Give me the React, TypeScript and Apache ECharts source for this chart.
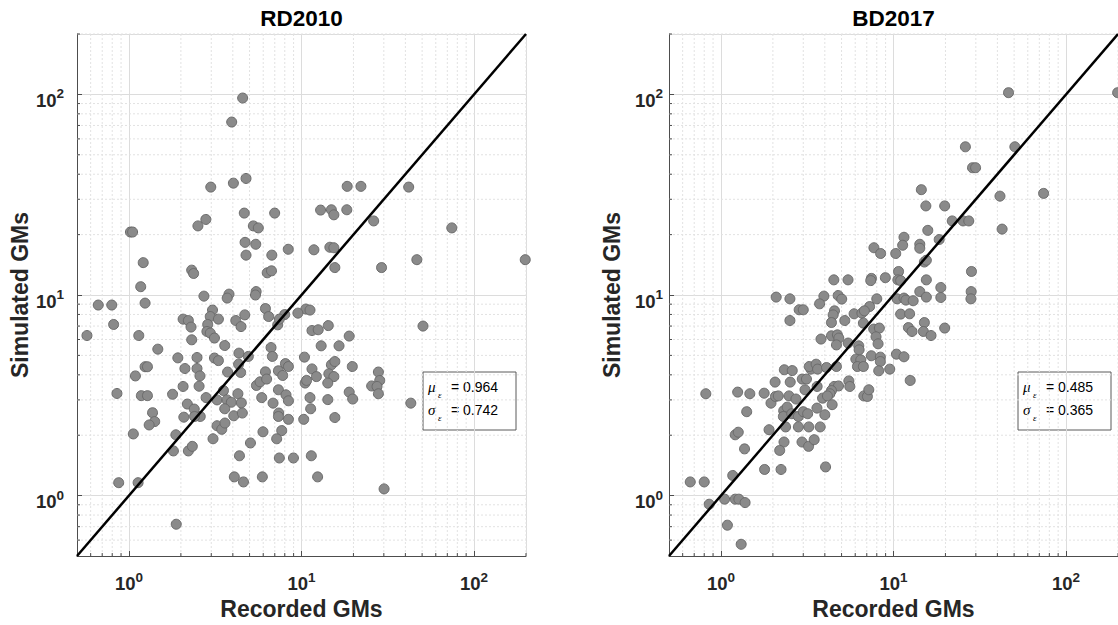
import React, { useEffect, useRef } from 'react';
import * as echarts from 'echarts';

// ---------- data ----------
const PANEL_TITLES = ['RD2010', 'BD2017'];
const X_AXIS_NAME = 'Recorded GMs';
const Y_AXIS_NAME = 'Simulated GMs';
const AXIS_RANGE = [0.5, 200];
const ONE_TO_ONE = [0.5, 200];
const MINOR_GRID = [0.6, 0.7, 0.8, 0.9, 2, 3, 4, 5, 6, 7, 8, 9, 20, 30, 40, 50, 60, 70, 80, 90, 200];
const RD2010_STATS = ['0.964', '0.742'];
const BD2017_STATS = ['0.485', '0.365'];

// [recorded, simulated]
const RD2010_POINTS = [
  [4.56, 95.9], [3.94, 72.8], [4.77, 38.1], [4.03, 36.1], [2.98, 34.5], [18.4, 34.8], [22.1, 34.8], [41.8, 34.5],
  [12.9, 26.5], [14.9, 26.6], [15.4, 25.1], [18.3, 26.6], [26.2, 23.4], [4.66, 25.6], [6.99, 25.6], [2.79, 23.8],
  [2.51, 22.1], [5.26, 22.1], [5.62, 21.6], [1.02, 20.6], [1.05, 20.6], [74.3, 21.6], [4.71, 18.3], [5.43, 17.9],
  [4.77, 15.8], [6.73, 15.8], [8.38, 16.9], [11.8, 16.8], [14.6, 17.3], [15.4, 17.2], [15.6, 13.7], [29.1, 13.7],
  [46.6, 15.0], [198, 15.0], [1.21, 14.5], [2.31, 13.3], [2.37, 12.8], [6.33, 12.9], [6.70, 13.2], [1.17, 11.0],
  [2.72, 9.87], [3.80, 10.1], [3.71, 9.65], [5.46, 10.4], [5.41, 10.0], [0.664, 8.91], [0.795, 8.91], [1.24, 9.11],
  [3.05, 8.41], [4.69, 7.96], [6.18, 8.56], [10.6, 8.51], [11.2, 8.41], [9.53, 8.12], [7.99, 7.99], [6.45, 7.81],
  [0.815, 7.13], [0.571, 6.28], [1.14, 6.28], [2.96, 7.81], [3.30, 7.58], [2.06, 7.58], [2.21, 7.46], [2.29, 6.92],
  [2.86, 7.13], [2.83, 6.58], [2.96, 6.46], [3.13, 6.10], [2.31, 5.98], [4.16, 7.46], [4.46, 6.96], [7.28, 7.10],
  [7.44, 7.58], [1.47, 5.37], [3.59, 5.60], [1.92, 4.86], [2.48, 4.88], [3.13, 4.85], [3.30, 4.71], [4.34, 5.13],
  [4.92, 4.94], [6.66, 5.47], [6.78, 4.94], [10.4, 4.90], [1.24, 4.39], [1.28, 4.39], [2.11, 4.30], [2.48, 4.30],
  [2.58, 3.95], [3.73, 4.13], [4.44, 4.11], [4.32, 4.52], [1.09, 3.95], [2.06, 3.50], [2.55, 3.51], [3.53, 3.34],
  [5.48, 3.54], [5.75, 3.69], [6.18, 4.14], [6.28, 3.81], [7.35, 4.19], [7.78, 3.97], [8.07, 4.55], [8.40, 4.40],
  [10.5, 3.64], [0.852, 3.23], [1.18, 3.15], [1.28, 3.15], [1.79, 3.20], [2.80, 3.08], [3.24, 3.00], [3.70, 3.00],
  [3.92, 2.92], [4.28, 3.22], [4.48, 2.90], [2.18, 2.86], [2.39, 2.70], [3.59, 2.71], [5.88, 3.08], [6.84, 2.89],
  [7.35, 3.37], [8.13, 3.18], [8.40, 2.97], [1.37, 2.59], [1.41, 2.34], [1.31, 2.25], [2.08, 2.46], [2.59, 2.48],
  [2.40, 2.48], [4.05, 2.50], [4.54, 2.58], [3.24, 2.23], [3.45, 2.14], [3.60, 2.30], [7.38, 2.58], [7.35, 2.48],
  [8.40, 2.40], [10.3, 2.40], [1.06, 2.03], [1.87, 2.01], [3.07, 1.92], [5.98, 2.08], [7.68, 2.11], [7.18, 1.92],
  [5.06, 1.83], [1.81, 1.67], [2.21, 1.67], [2.33, 1.76], [4.37, 1.58], [7.44, 1.54], [8.98, 1.54], [0.872, 1.16],
  [1.13, 1.16], [4.08, 1.24], [4.61, 1.17], [5.93, 1.24], [1.88, 0.72], [11.5, 6.65], [12.5, 6.71], [14.3, 7.04],
  [18.9, 6.24], [13.0, 5.58], [16.5, 5.58], [50.6, 7.00], [11.5, 4.28], [12.2, 3.92], [10.7, 3.75], [14.9, 4.49],
  [15.6, 4.66], [14.4, 4.05], [15.4, 3.92], [14.2, 3.64], [19.7, 4.40], [27.9, 4.13], [28.4, 3.75], [25.5, 3.52],
  [27.4, 3.50], [27.9, 3.22], [11.2, 3.08], [14.2, 3.01], [18.9, 3.28], [19.8, 3.03], [11.3, 2.71], [43.0, 2.89],
  [15.6, 2.45], [11.4, 1.58], [12.4, 1.24], [30.1, 1.08],
];

const BD2017_POINTS = [
  [46.4, 102], [199, 102], [26.1, 54.8], [50.5, 54.8], [28.7, 43.1], [29.9, 43.1], [14.5, 33.5], [41.4, 31.1],
  [74.1, 32.1], [15.4, 27.8], [19.8, 27.8], [21.9, 23.4], [25.3, 23.4], [27.3, 23.4], [42.6, 21.3], [15.8, 21.0],
  [18.4, 18.9], [11.5, 19.4], [11.3, 17.7], [14.2, 17.9], [14.2, 17.1], [7.70, 17.2], [8.42, 16.1], [10.3, 16.1],
  [15.1, 14.6], [15.5, 14.9], [10.7, 13.1], [28.3, 13.1], [4.51, 11.9], [5.45, 11.9], [7.45, 12.1], [7.38, 11.8],
  [8.97, 12.2], [10.6, 11.9], [11.0, 11.8], [15.5, 11.9], [18.8, 10.9], [28.2, 10.4], [14.2, 10.4], [2.09, 9.76],
  [2.51, 9.57], [3.95, 9.87], [4.78, 9.94], [5.01, 9.54], [8.00, 9.57], [10.5, 9.57], [11.5, 9.65], [11.8, 9.43],
  [13.0, 9.36], [15.5, 9.76], [18.8, 9.72], [28.1, 9.57], [3.73, 9.04], [2.84, 8.44], [3.00, 8.44], [4.55, 8.34],
  [7.27, 8.76], [5.91, 8.06], [6.56, 8.12], [6.78, 8.34], [4.47, 7.96], [11.0, 8.03], [12.4, 8.06],
  [2.51, 7.46], [4.37, 7.29], [5.22, 7.46], [6.69, 7.24], [7.68, 6.76], [8.28, 6.84], [3.80, 6.03], [4.37, 6.26],
  [4.73, 6.33], [4.82, 6.10], [4.67, 5.64], [5.46, 5.76], [6.29, 5.58], [6.32, 5.33], [6.05, 4.79], [6.46, 4.75],
  [6.18, 4.40], [6.69, 4.40], [7.44, 4.98], [7.92, 6.19], [8.14, 5.71], [8.39, 4.90], [8.39, 4.66], [9.51, 4.27],
  [8.21, 4.19], [10.4, 5.07], [11.5, 4.92], [12.5, 3.75], [15.1, 7.29], [12.2, 6.88], [12.8, 6.58], [14.9, 6.58],
  [16.5, 6.28], [19.8, 6.84], [2.33, 4.24], [2.59, 4.20], [2.52, 3.68], [2.06, 3.68], [2.96, 3.81], [3.13, 3.81],
  [3.32, 4.27], [3.25, 4.40], [3.56, 4.52], [3.63, 4.27], [4.09, 4.35], [4.67, 4.40], [5.51, 3.73], [5.58, 3.50],
  [4.53, 3.50], [4.80, 3.52], [4.37, 3.34], [4.28, 3.22], [3.88, 3.06], [4.14, 3.14], [4.41, 2.84], [6.73, 3.14],
  [7.06, 3.12], [7.19, 3.37], [0.817, 3.22], [1.25, 3.28], [1.47, 3.22], [1.78, 3.24], [1.95, 2.89], [2.07, 3.12],
  [2.15, 3.14], [2.48, 3.14], [2.72, 3.03], [3.07, 3.37], [3.61, 3.50], [1.41, 2.62], [2.31, 2.65], [2.42, 2.76],
  [2.30, 2.48], [2.57, 2.56], [2.81, 2.48], [3.00, 2.62], [3.18, 2.56], [3.60, 2.73], [4.00, 2.53], [1.21, 2.01],
  [1.26, 2.07], [1.37, 1.71], [1.90, 2.13], [2.32, 1.85], [2.19, 1.68], [2.37, 2.20], [2.81, 2.20], [3.23, 2.20],
  [3.76, 2.20], [2.95, 1.85], [3.22, 1.76], [3.47, 1.90], [1.79, 1.35], [2.23, 1.35], [4.04, 1.39], [0.664, 1.17],
  [0.800, 1.17], [1.17, 1.26], [0.855, 0.906], [1.05, 0.96], [1.21, 0.96], [1.27, 0.96], [1.38, 0.923],
  [1.09, 0.712], [1.31, 0.572],
];

// ---------- style / layout ----------
const FONT = '"Liberation Sans", Arial, Helvetica, sans-serif';
const SERIF = '"Liberation Serif", "Times New Roman", serif';
const TEXT_COLOR = '#262626';
const AXIS_COLOR = '#4d4d4d';
const GRID_TOP = 34;
const GRID_H = 522;
const GRID_W = 449;

const PANELS = [
  { title: PANEL_TITLES[0], points: RD2010_POINTS, stats: RD2010_STATS, left: 77, yLabelMargin: 13, boxX: 423 },
  { title: PANEL_TITLES[1], points: BD2017_POINTS, stats: BD2017_STATS, left: 669, yLabelMargin: 6, boxX: 1018 },
];

const powerLabel = (v: number) => {
  const l = Math.log10(v);
  const e = Math.round(l);
  return Math.abs(l - e) < 1e-6 ? `{b|10}{s|${e}}` : '';
};

const labelRich = {
  b: { fontFamily: FONT, fontSize: 18.5, fontWeight: 'bold', color: TEXT_COLOR, padding: [4, 0, 0, 0], verticalAlign: 'bottom' },
  s: { fontFamily: FONT, fontSize: 13.5, fontWeight: 'bold', color: TEXT_COLOR, verticalAlign: 'top' },
};

function buildOption() {
  const grid: any[] = [];
  const xAxis: any[] = [];
  const yAxis: any[] = [];
  const series: any[] = [];
  const graphic: any[] = [];

  PANELS.forEach((p, i) => {
    grid.push({ left: p.left, top: GRID_TOP, width: GRID_W, height: GRID_H, containLabel: false, outerBoundsMode: 'none' });
    const common = {
      type: 'log',
      logBase: 10,
      gridIndex: i,
      min: AXIS_RANGE[0],
      max: AXIS_RANGE[1],
      nameLocation: 'middle',
      nameTextStyle: { fontFamily: FONT, fontSize: 23, fontWeight: 'bold', color: TEXT_COLOR },
      axisLine: { show: true, lineStyle: { color: AXIS_COLOR, width: 1 } },
      axisTick: { show: true, inside: true, length: 5, lineStyle: { color: AXIS_COLOR, width: 1 } },
      splitLine: { show: true, lineStyle: { color: '#dcdcdc', width: 1 } },
      minorTick: { show: false },
      minorSplitLine: { show: false },
    };
    xAxis.push({
      ...common,
      position: 'bottom',
      name: X_AXIS_NAME,
      nameGap: 41,
      axisLabel: { formatter: powerLabel, rich: labelRich, margin: 14, showMinLabel: false, showMaxLabel: false, hideOverlap: false },
    });
    yAxis.push({
      ...common,
      position: 'left',
      name: Y_AXIS_NAME,
      nameGap: 46,
      axisLabel: { formatter: powerLabel, rich: labelRich, margin: p.yLabelMargin, padding: [8, 0, 0, 0], showMinLabel: false, showMaxLabel: false, hideOverlap: false },
    });

    // minor (dotted) grid lines and minor ticks, placed through the axes' scales
    series.push({
      type: 'custom',
      xAxisIndex: i,
      yAxisIndex: i,
      silent: true,
      clip: false,
      z: 1,
      data: MINOR_GRID.map((v) => [v, v]),
      renderItem: (params: any, api: any) => {
        const c = api.coord([api.value(0), api.value(1)]);
        const cs = params.coordSys;
        const l = cs.x, r = cs.x + cs.width, t = cs.y, b = cs.y + cs.height;
        const gridStyle = { stroke: '#e2e2e2', lineWidth: 1, lineDash: [2, 2] };
        const tick = { stroke: AXIS_COLOR, lineWidth: 1 };
        return {
          type: 'group',
          children: [
            { type: 'line', shape: { x1: c[0], y1: t, x2: c[0], y2: b }, style: gridStyle },
            { type: 'line', shape: { x1: l, y1: c[1], x2: r, y2: c[1] }, style: gridStyle },
            { type: 'line', shape: { x1: c[0], y1: b, x2: c[0], y2: b - 3 }, style: tick },
            { type: 'line', shape: { x1: l, y1: c[1], x2: l + 3, y2: c[1] }, style: tick },
          ],
        };
      },
    });

    series.push({
      type: 'scatter',
      xAxisIndex: i,
      yAxisIndex: i,
      data: p.points,
      symbol: 'circle',
      symbolSize: 10,
      z: 3,
      itemStyle: { color: '#8a8a8a', borderColor: '#6b6b6b', borderWidth: 1, opacity: 1 },
    });

    series.push({
      type: 'line',
      xAxisIndex: i,
      yAxisIndex: i,
      data: [[ONE_TO_ONE[0], ONE_TO_ONE[0]], [ONE_TO_ONE[1], ONE_TO_ONE[1]]],
      symbol: 'none',
      z: 4,
      lineStyle: { color: '#000', width: 2.5 },
    });

    graphic.push({
      type: 'text',
      x: p.left + GRID_W / 2,
      y: 18,
      z: 100,
      style: { text: p.title, font: `bold 22.5px ${FONT}`, fill: '#000', align: 'center', verticalAlign: 'middle' },
    });

    const bx = p.boxX;
    const by = 372;
    graphic.push({
      type: 'group',
      x: bx,
      y: by,
      z: 100,
      children: [
        { type: 'rect', shape: { x: 0, y: 0, width: 93, height: 58 }, style: { fill: '#fff', stroke: '#5a5a5a', lineWidth: 1 } },
        { type: 'text', x: 5, y: 15, style: { text: 'μ', font: `italic 15px ${SERIF}`, fill: '#000', align: 'left', verticalAlign: 'middle' } },
        { type: 'text', x: 15, y: 23, style: { text: 'ε', font: `italic 9px ${SERIF}`, fill: '#000', align: 'left', verticalAlign: 'middle' } },
        { type: 'text', x: 28, y: 15, style: { text: `= ${p.stats[0]}`, font: `14px ${FONT}`, fill: '#000', align: 'left', verticalAlign: 'middle' } },
        { type: 'text', x: 5, y: 38, style: { text: 'σ', font: `italic 15px ${SERIF}`, fill: '#000', align: 'left', verticalAlign: 'middle' } },
        { type: 'text', x: 15, y: 46, style: { text: 'ε', font: `italic 9px ${SERIF}`, fill: '#000', align: 'left', verticalAlign: 'middle' } },
        { type: 'text', x: 28, y: 38, style: { text: `= ${p.stats[1]}`, font: `14px ${FONT}`, fill: '#000', align: 'left', verticalAlign: 'middle' } },
      ],
    });
  });

  return {
    animation: false,
    backgroundColor: '#ffffff',
    grid,
    xAxis,
    yAxis,
    series,
    graphic,
  };
}

export default function App() {
  const ref = useRef<HTMLDivElement>(null);
  useEffect(() => {
    if (!ref.current) return;
    const chart = echarts.init(ref.current, null, { renderer: 'svg' });
    chart.setOption(buildOption() as any);
    return () => chart.dispose();
  }, []);
  return (
    <div
      ref={ref}
      style={{ position: 'absolute', left: 0, top: 0, width: 1118, height: 625, background: '#fff', overflow: 'hidden' }}
    />
  );
}
